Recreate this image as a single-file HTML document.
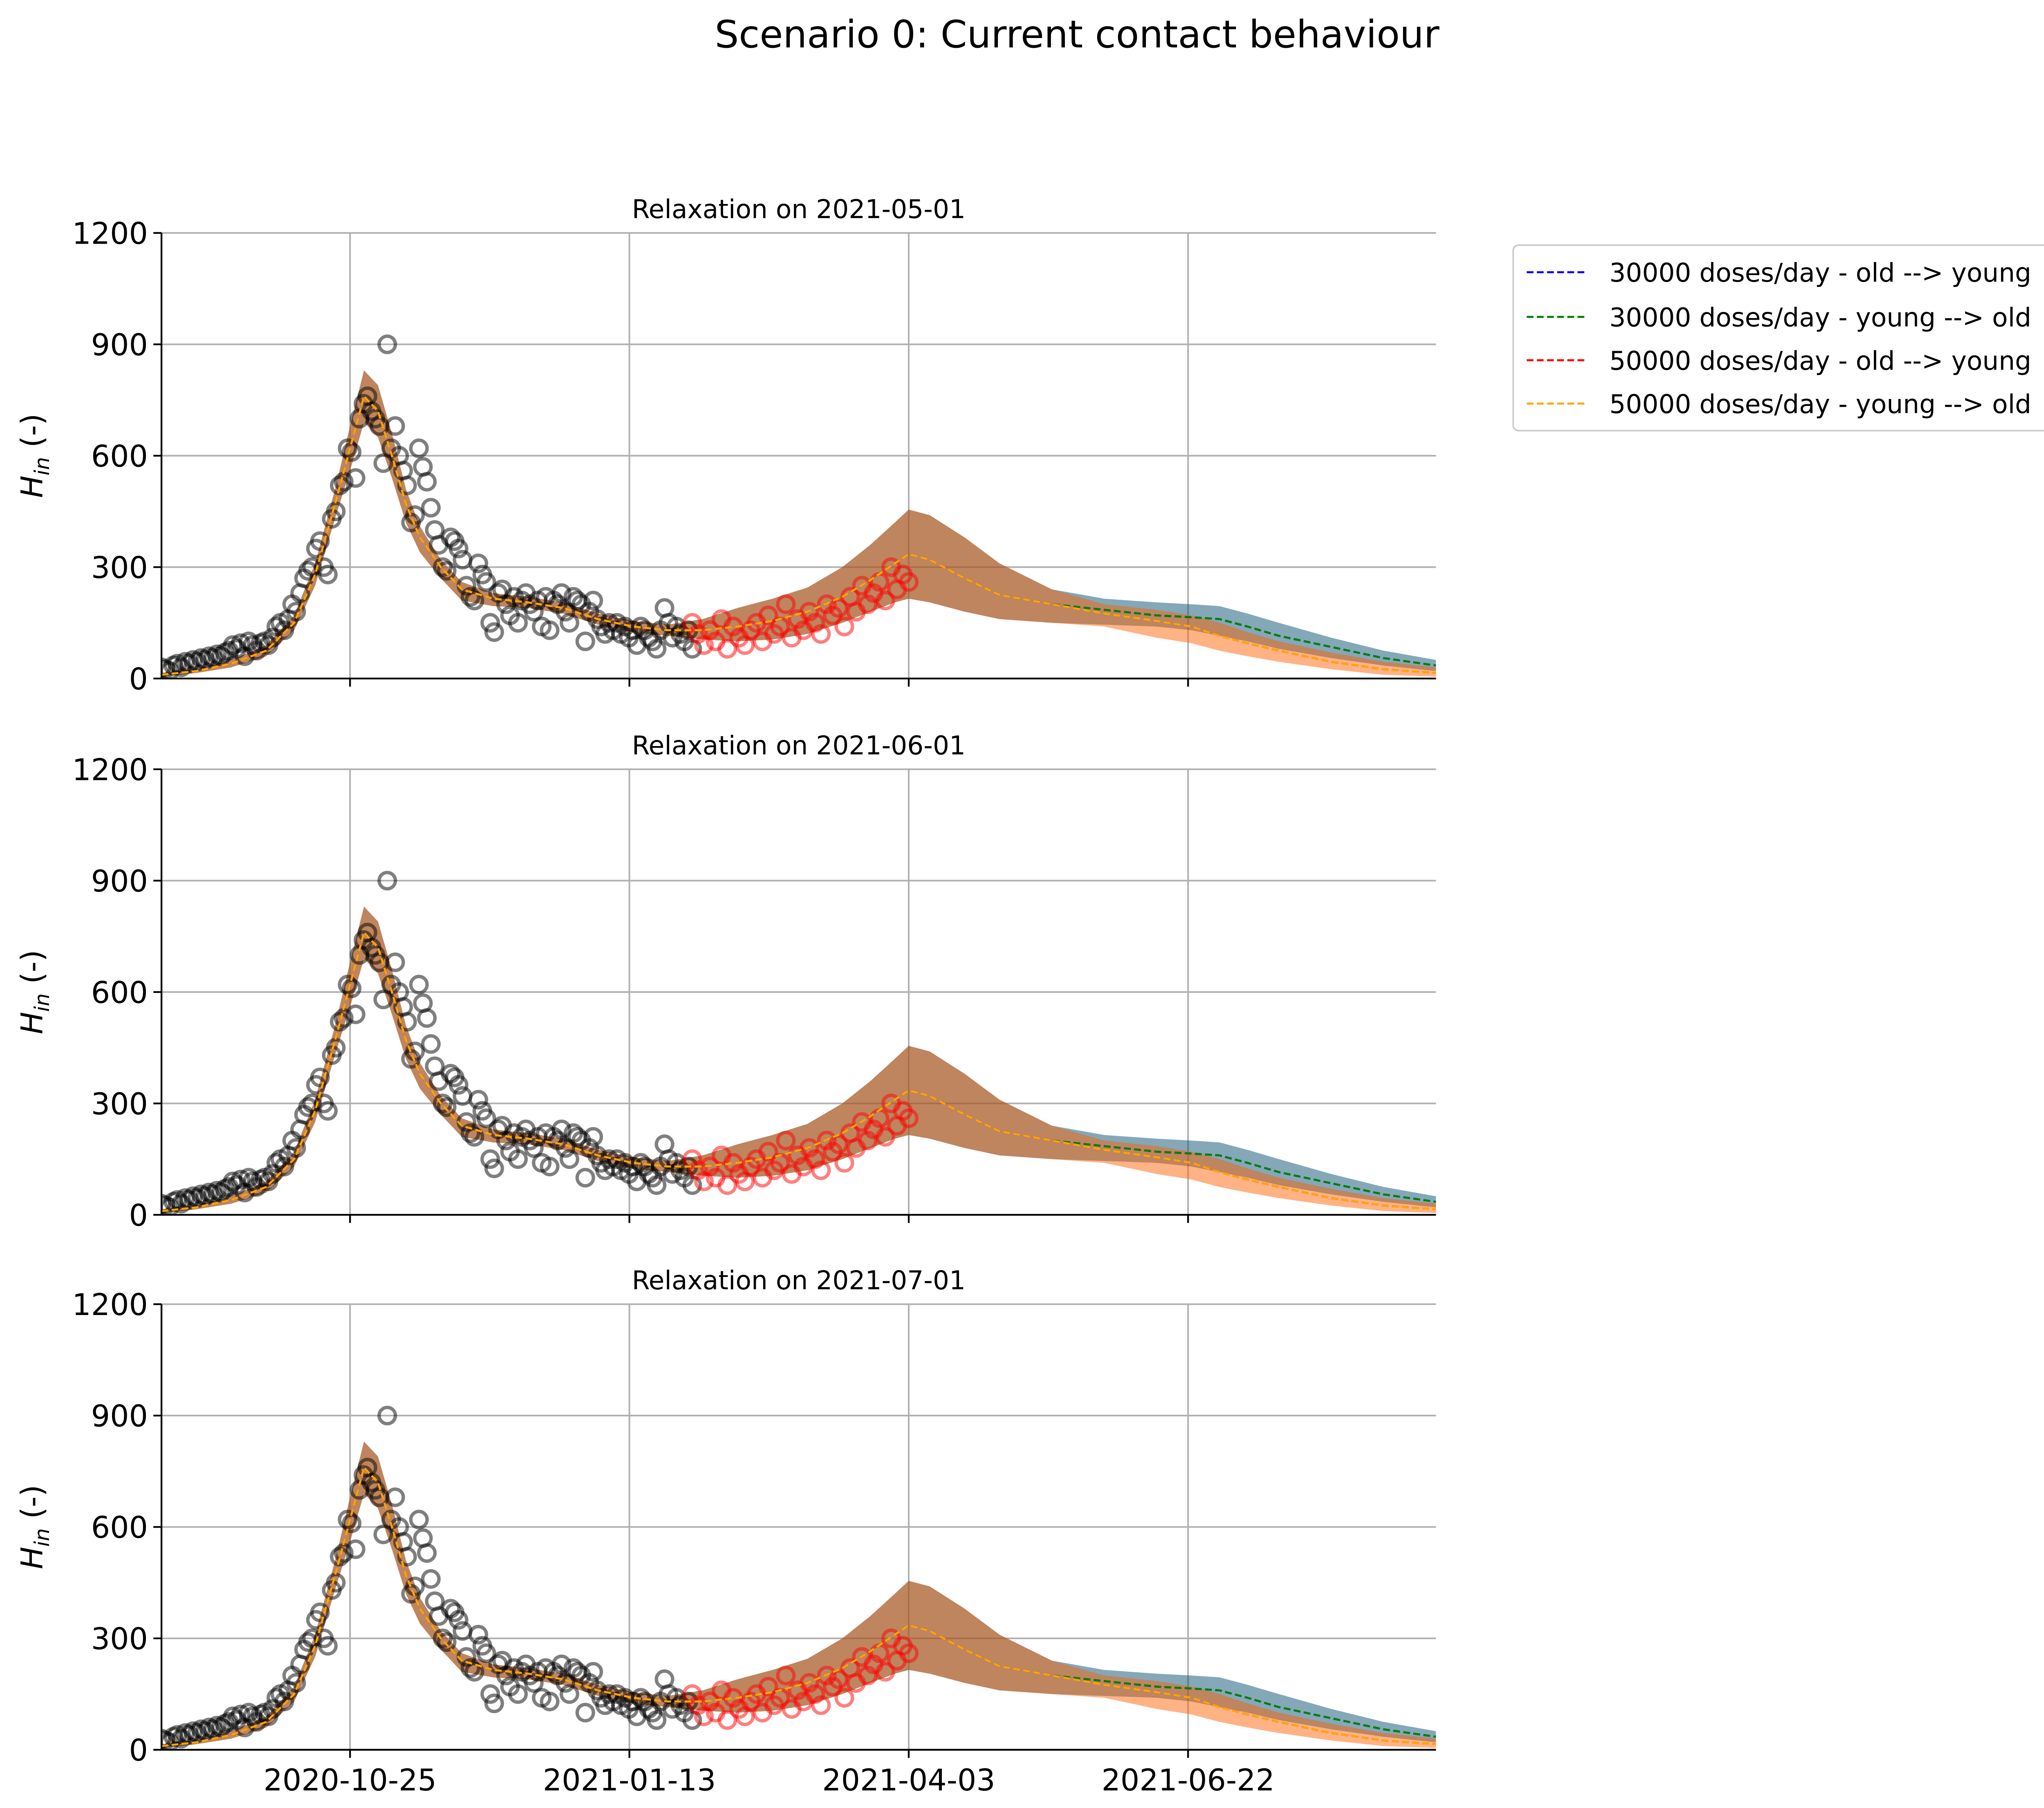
<!DOCTYPE html>
<html><head><meta charset="utf-8"><style>
html,body{margin:0;padding:0;background:#fff}
svg{display:block}
text{font-family:"DejaVu Sans","Liberation Sans",sans-serif}
</style></head><body>
<svg id="chart" xmlns="http://www.w3.org/2000/svg" width="5170" height="4423" viewBox="0 0 1560 1335">
<rect width="1560" height="1335" fill="#fff"/>
<text x="795" y="35" font-size="28" text-anchor="middle">Scenario 0: Current contact behaviour</text>
<g id="panels"></g>
<g>
<rect x="1117" y="181" width="438" height="137" rx="4" fill="#fff" stroke="#ccc" stroke-width="1.2"/>
<g><line x1="1127" y1="201" x2="1170" y2="201" stroke="blue" stroke-width="1.5" stroke-dasharray="5,2.5"/><text x="1188" y="208" font-size="19">30000 doses/day - old --&gt; young</text></g>
<g><line x1="1127" y1="234" x2="1170" y2="234" stroke="green" stroke-width="1.5" stroke-dasharray="5,2.5"/><text x="1188" y="241" font-size="19">30000 doses/day - young --&gt; old</text></g>
<g><line x1="1127" y1="266" x2="1170" y2="266" stroke="red" stroke-width="1.5" stroke-dasharray="5,2.5"/><text x="1188" y="273" font-size="19">50000 doses/day - old --&gt; young</text></g>
<g><line x1="1127" y1="298" x2="1170" y2="298" stroke="orange" stroke-width="1.5" stroke-dasharray="5,2.5"/><text x="1188" y="305" font-size="19">50000 doses/day - young --&gt; old</text></g>
</g>
</svg>
<script>
const panelTitles = ["Relaxation on 2021-05-01","Relaxation on 2021-06-01","Relaxation on 2021-07-01"];
const yTicks = [0,300,600,900,1200];
const xTickDays = [54,134,214,294];
const xTickLabels = ["2020-10-25","2021-01-13","2021-04-03","2021-06-22"];
const knotDays = [0,10,20,30,38,44,50,54,58,62,66,70,74,80,86,95,105,115,125,135,145,155,165,175,185,195,203,210,214,220,230,240,255,270,285,295,303,311,320,335,350,365];
const meanBG = [10,20,40,75,150,280,480,620,760,720,600,470,380,300,240,215,205,190,160,140,130,130,140,155,180,220,265,310,335,320,270,225,200,185,170,165,160,140,115,85,55,35];
const meanRO = [10,20,40,75,150,280,480,620,760,720,600,470,380,300,240,215,205,190,160,140,130,130,140,155,180,220,265,310,335,320,270,225,200,175,155,140,115,95,75,45,25,15];
const upperBG = [15,25,50,90,170,310,520,680,830,790,660,510,410,320,260,230,220,205,175,155,145,160,190,215,245,300,360,420,455,440,380,310,240,215,205,200,195,175,150,110,75,50];
const lowerBG = [5,15,30,60,130,250,440,560,690,650,540,420,340,270,210,195,190,175,145,125,115,105,100,105,120,150,180,205,215,205,180,160,150,145,140,130,115,100,80,55,35,20];
const upperRO = [15,25,50,90,170,310,520,680,830,790,660,510,410,320,260,230,220,205,175,155,145,160,190,215,245,300,360,420,455,440,380,310,240,200,185,170,150,125,100,70,45,30];
const lowerRO = [5,15,30,60,130,250,440,560,690,650,540,420,340,270,210,195,190,175,145,125,115,105,100,105,120,150,180,205,215,205,180,160,150,140,110,95,75,60,45,25,10,5];
const blackObs = [30,25,20,35,40,30,45,40,50,45,55,50,60,55,65,60,70,75,90,80,95,60,100,90,75,95,100,90,110,140,150,130,160,200,180,230,270,290,300,350,370,300,280,430,450,520,530,620,610,540,700,740,760,720,700,680,580,900,620,680,600,560,520,420,440,620,570,530,460,400,360,300,290,380,370,350,320,250,220,210,310,280,260,150,125,230,240,200,170,220,150,210,230,200,180,210,140,220,130,210,200,230,180,150,220,210,200,100,180,210,160,140,120,150,130,150,120,140,110,130,90,140,130,110,100,80,130,190,150,110,140,120,100,130,80];
const blackStart = 0, blackEnd = 152;
const redObs = [150,120,90,130,100,160,80,140,110,90,130,150,100,170,120,140,200,110,160,130,180,150,120,200,170,190,140,220,180,250,200,230,260,210,300,240,280,260];
const redStart = 152, redEnd = 214;
const seriesColors = ["blue","green","red","orange"];

const NS="http://www.w3.org/2000/svg";
const X0=119,X1=1060,D0=0,D1=365;
const xs=d=>X0+(d-D0)/(D1-D0)*(X1-X0);
const panelTops=[172,568,963];
const PH=329;
function mk(tag,attrs,parent){const e=document.createElementNS(NS,tag);for(const k in attrs)e.setAttribute(k,attrs[k]);parent.appendChild(e);return e;}
const root=document.getElementById('panels');
panelTops.forEach((top,pi)=>{
  const bot=top+PH;
  const ys=v=>bot-v/1200*PH;
  const g=mk('g',{},root);
  
  
  const clipId='clip'+pi;
  const cp=mk('clipPath',{id:clipId},g);mk('rect',{x:X0,y:top,width:X1-X0,height:PH},cp);
  // grid
  yTicks.forEach(t=>{const l=mk('line',{x1:X0,x2:X1,y1:ys(t),y2:ys(t),stroke:'#b0b0b0','stroke-width':1.2},g);
    });
  xTickDays.forEach(d=>{const l=mk('line',{x1:xs(d),x2:xs(d),y1:top,y2:bot,stroke:'#b0b0b0','stroke-width':1.2},g);
    });
  const cg=mk('g',{'clip-path':'url(#'+clipId+')'},g);
  // bands
  const bands=[[upperBG,lowerBG],[upperBG,lowerBG],[upperRO,lowerRO],[upperRO,lowerRO]];
  bands.forEach((b,si)=>{
    let d='M'+knotDays.map((k,i)=>xs(k)+','+ys(b[0][i])).join('L');
    for(let i=knotDays.length-1;i>=0;i--)d+='L'+xs(knotDays[i])+','+ys(b[1][i]);
    const p=mk('path',{d:d+'Z',fill:seriesColors[si],'fill-opacity':0.28,stroke:'none'},cg);
    
  });
  // observations
  blackObs.forEach((v,i)=>{const d=blackStart+i*(blackEnd-blackStart)/(blackObs.length-1);
    const c=mk('circle',{cx:xs(d),cy:ys(v),r:6,fill:'none',stroke:'#000','stroke-opacity':0.5,'stroke-width':2.5},cg);
    });
  redObs.forEach((v,i)=>{const d=redStart+i*(redEnd-redStart)/(redObs.length-1);
    const c=mk('circle',{cx:xs(d),cy:ys(v),r:6,fill:'none',stroke:'red','stroke-opacity':0.5,'stroke-width':2.5},cg);
    });
  // mean lines
  [meanBG,meanBG,meanRO,meanRO].forEach((m,si)=>{
    const d='M'+knotDays.map((k,i)=>xs(k)+','+ys(m[i])).join('L');
    const p=mk('path',{d:d,fill:'none',stroke:seriesColors[si],'stroke-width':1.5,'stroke-dasharray':'5,2.5'},cg);
    
  });
  // spines
  const sl=mk('line',{x1:X0,x2:X0,y1:top,y2:bot,stroke:'#000','stroke-width':1.3},g);
  
  const sb=mk('line',{x1:X0,x2:X1,y1:bot,y2:bot,stroke:'#000','stroke-width':1.3},g);
  
  yTicks.forEach(t=>{mk('line',{x1:X0-6,x2:X0,y1:ys(t),y2:ys(t),stroke:'#000','stroke-width':1.3},g);
    const tx=mk('text',{x:X0-10,y:ys(t)+8,'font-size':22,'text-anchor':'end'},g);tx.textContent=t;
    });
  xTickDays.forEach((d,i)=>{mk('line',{x1:xs(d),x2:xs(d),y1:bot,y2:bot+6,stroke:'#000','stroke-width':1.3},g);
    if(pi===2){const tx=mk('text',{x:xs(d),y:bot+30,'font-size':22,'text-anchor':'middle'},g);tx.textContent=xTickLabels[i];
      }});
  const ti=mk('text',{x:(X0+X1)/2,y:top-11,'font-size':19,'text-anchor':'middle'},g);ti.textContent=panelTitles[pi];
  
  const yl=mk('text',{x:0,y:0,'font-size':22,'text-anchor':'middle',transform:'translate(31,'+(top+PH/2)+') rotate(-90)'},g);
  yl.innerHTML='<tspan font-style="italic">H</tspan><tspan font-style="italic" font-size="15" dy="5">in</tspan><tspan dy="-5"> (-)</tspan>';
  
});
</script>
</body></html>
